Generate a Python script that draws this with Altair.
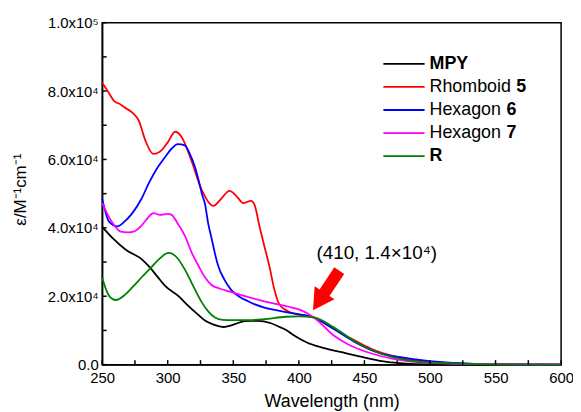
import json
import altair as alt
import pandas as pd

# ---------------- data ----------------
wl_mpy = [250, 258, 268, 280.5, 285.5, 292, 298, 308, 315.7, 322, 328.4, 335, 343, 348.5,
          358.6, 363.6, 368.7, 378.7, 386, 390, 396.4, 406.5, 416.5, 431.6, 451.8, 467, 482,
          500, 550, 600]
eps_mpy = [40300, 37000, 33600, 30700, 28800, 25800, 23000, 20100, 17200, 15000, 12900, 11700,
           11000, 11500, 12700, 12800, 12800, 12100, 10900, 10200, 8500, 6400, 5100, 3700, 1900,
           780, 300, 100, 0, 0]

wl_r5 = [250, 255, 259, 264, 268, 273, 278, 283, 289, 295.6, 300, 305.7, 310.7, 318, 326,
         334.7, 341, 347, 353.5, 357.3, 363.6, 366.2, 370, 373.7, 377.5, 381.3, 385, 391.3,
         404, 410, 420, 430, 440, 450, 460, 470, 480, 500, 520, 550, 600]
eps_r5 = [82400, 79500, 77100, 76100, 75000, 73700, 71300, 65500, 61600, 62800, 65000, 68100,
          66500, 59700, 51000, 46400, 48600, 50800, 48800, 47200, 47900, 46700, 40400, 34600,
          28800, 22000, 17700, 15700, 14300, 14000, 12000, 9800, 7600, 5600, 3900, 2700, 1800,
          800, 350, 100, 0]

wl_h6 = [250, 255.3, 261.6, 267, 273, 280, 285.5, 292, 298, 303, 307.7, 313, 317, 320.8,
         323.5, 326, 328.4, 331, 333.4, 336, 338.4, 343, 348.5, 355, 361, 366, 373.7, 378.7,
         391.3, 404, 411.5, 426.6, 441.8, 459, 482, 507, 530, 560, 600]
eps_h6 = [48500, 41800, 40400, 41800, 44300, 48500, 53000, 57500, 60700, 63200, 64500, 64100,
          61500, 57800, 54000, 50000, 47000, 41000, 37000, 32500, 29000, 25000, 21800, 19800,
          18600, 17700, 16700, 16200, 15300, 14500, 13700, 10400, 6800, 3700, 1900, 780, 300,
          100, 0]

wl_h7 = [250, 254, 258, 264, 270, 274, 280.5, 285, 289, 294, 300, 303, 308, 313.3, 318,
         323.3, 328, 333.4, 340, 348.5, 361, 373.7, 391.3, 401, 411.5, 426.6, 436.7, 451.8,
         472, 497, 530, 560, 600]
eps_h7 = [47200, 44000, 41400, 38900, 38700, 38900, 40900, 43000, 44300, 43800, 44100, 43800,
          41000, 37500, 33000, 29000, 25800, 23300, 22200, 21200, 19800, 18500, 17000, 16000,
          13800, 8500, 6100, 3700, 1700, 500, 200, 100, 50]

wl_r = [250, 255.3, 260.3, 267.9, 274, 280.5, 287, 293, 300.6, 304, 308, 312, 315.7, 321,
        326, 331, 336, 342, 348.5, 361, 373.7, 390, 400, 411.5, 426.6, 441.8, 459, 484.6,
        507, 530, 560, 600]
eps_r = [25400, 20100, 18900, 20600, 23000, 25700, 28300, 30700, 32700, 32300, 30900, 28500,
         25900, 21800, 18200, 15500, 13800, 13100, 13000, 13000, 13300, 14000, 14100, 13800,
         10900, 7000, 3700, 1200, 500, 200, 50, 0]

series_names = ["MPY", "Rhomboid 5", "Hexagon 6", "Hexagon 7", "R"]
series_colors = ["#000000", "#FF0000", "#0000FF", "#FF00FF", "#008000"]
legend_plain = ["", "Rhomboid", "Hexagon", "Hexagon", ""]
legend_bold = ["MPY", "5", "6", "7", "R"]

x_ticks = [250, 300, 350, 400, 450, 500, 550, 600]
x_minor = [275, 325, 375, 425, 475, 525, 575]
y_ticks = [0, 20000, 40000, 60000, 80000, 100000]
y_minor = [10000, 30000, 50000, 70000, 90000]
y_tick_labels = ["0.0", "2.0x10⁴", "4.0x10⁴", "6.0x10⁴", "8.0x10⁴", "1.0x10⁵"]

ann_x = [459.4]
ann_y = [32700]
ann_text = ["(410, 1.4×10⁴)"]
arrow_x = [420.8]
arrow_y = [21700]

# ---------------- build ----------------
FONT = "Liberation Sans"
W, H = 463, 345

rows = []
for name, wls, eps in zip(series_names,
                          [wl_mpy, wl_r5, wl_h6, wl_h7, wl_r],
                          [eps_mpy, eps_r5, eps_h6, eps_h7, eps_r]):
    for a, b in zip(wls, eps):
        rows.append({"series": name, "wl": a, "eps": b})
df = pd.DataFrame(rows)

xscale = alt.Scale(domain=[250, 600], nice=False, zero=False)
yscale = alt.Scale(domain=[0, 100000], nice=False)

label_expr = json.dumps(y_tick_labels, ensure_ascii=False) + "[round(datum.value/20000)]"

xaxis = alt.Axis(values=x_ticks, format="d", tickSize=0, labelPadding=6, labelFlush=False,
                 labelOverlap=False,
                 labelFontSize=15, labelFont=FONT, labelColor="black",
                 domainColor="black", domainWidth=1.5, grid=False,
                 title="Wavelength (nm)", titleFont=FONT, titleFontSize=18,
                 titleFontWeight="normal", titleColor="black",
                 titleX=W / 2, titleY=42, titleAlign="center",
                 titleBaseline="alphabetic")
yaxis = alt.Axis(values=y_ticks, labelExpr=label_expr, tickSize=0, labelPadding=4,
                 labelFlush=False, labelOverlap=False,
                 labelFontSize=15, labelFont=FONT, labelColor="black",
                 domainColor="black", domainWidth=1.5, grid=False,
                 title="ε/M⁻¹cm⁻¹", titleFont=FONT, titleFontSize=17,
                 titleFontWeight="normal", titleColor="black",
                 titleX=-82, titleY=168, titleAlign="center", titleAngle=-90,
                 titleBaseline="middle")

lines = alt.Chart(df).mark_line(strokeWidth=1.8, interpolate="monotone").encode(
    x=alt.X("wl:Q", scale=xscale, axis=xaxis),
    y=alt.Y("eps:Q", scale=yscale, axis=yaxis),
    color=alt.Color("series:N", scale=alt.Scale(domain=series_names, range=series_colors),
                    legend=None),
    order=alt.Order("wl:Q"),
)

xt = alt.Chart(pd.DataFrame({"wl": x_ticks + x_minor})).mark_rule(
    color="black", strokeWidth=1.5).encode(
    x=alt.X("wl:Q", scale=xscale, axis=xaxis), y=alt.value(H), y2=alt.value(H - 4.5))
yt = alt.Chart(pd.DataFrame({"eps": y_ticks + y_minor})).mark_rule(
    color="black", strokeWidth=1.5).encode(
    y=alt.Y("eps:Q", scale=yscale, axis=yaxis), x=alt.value(0), x2=alt.value(4.5))

ann = alt.Chart(pd.DataFrame({"wl": ann_x, "eps": ann_y, "t": ann_text})).mark_text(
    font=FONT, fontSize=19, color="black", align="center", baseline="middle").encode(
    x=alt.X("wl:Q", scale=xscale, axis=xaxis), y=alt.Y("eps:Q", scale=yscale, axis=yaxis),
    text="t:N")

arrow_path = ("M0,-1 L0.5,-0.12 L0.25,-0.12 L0.25,1 L-0.25,1 L-0.25,-0.12 "
              "L-0.5,-0.12 Z")
arrow = alt.Chart(pd.DataFrame({"wl": arrow_x, "eps": arrow_y})).mark_point(
    shape=arrow_path, size=2300, angle=213.5, filled=True, color="#FF0000",
    opacity=1, strokeWidth=0).encode(
    x=alt.X("wl:Q", scale=xscale, axis=xaxis), y=alt.Y("eps:Q", scale=yscale, axis=yaxis))

leg_layers = []
row_y0, row_dy = 41.5, 23.3
bold_offsets = [0, 87.5, 77.5, 77.5, 0]
one = pd.DataFrame({"a": [0]})
for i in range(len(series_names)):
    yy = row_y0 + i * row_dy
    leg_layers.append(alt.Chart(one).mark_rule(color=series_colors[i], strokeWidth=1.8).encode(
        x=alt.value(283.7), x2=alt.value(325.3), y=alt.value(yy)))
    if legend_plain[i]:
        leg_layers.append(alt.Chart(one).mark_text(
            font=FONT, fontSize=18, align="left", baseline="middle", color="black").encode(
            x=alt.value(330.3), y=alt.value(yy), text=alt.value(legend_plain[i])))
    leg_layers.append(alt.Chart(one).mark_text(
        font=FONT, fontSize=18, fontWeight="bold", align="left", baseline="middle",
        color="black").encode(
        x=alt.value(330.3 + bold_offsets[i]), y=alt.value(yy), text=alt.value(legend_bold[i])))

chart = alt.layer(lines, xt, yt, ann, arrow, *leg_layers).properties(
    width=W, height=H,
    background="white",
    autosize=alt.AutoSizeParams(type="none"),
    padding={"left": 95, "top": 13, "right": 12, "bottom": 46},
).configure_view(stroke="black", strokeWidth=1.5)

chart.save("out.html", embed_options={"renderer": "svg", "actions": False})
